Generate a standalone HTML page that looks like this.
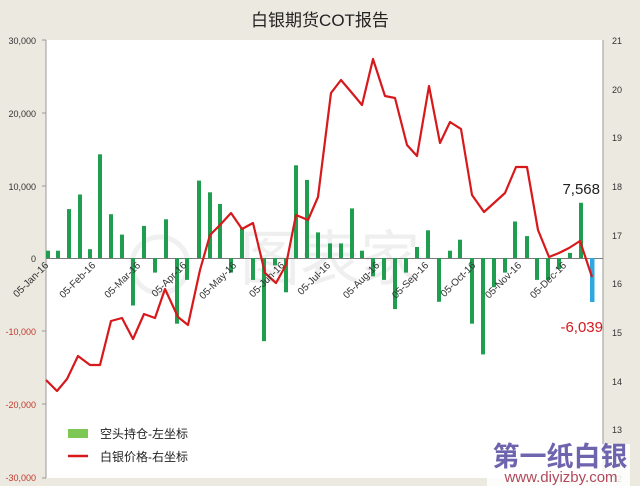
<!DOCTYPE html>
<html><head><meta charset="utf-8"><style>
html,body{margin:0;padding:0;background:#ece9e0;}
svg{display:block;font-family:"Liberation Sans","Noto Sans CJK SC",sans-serif;}
</style></head><body>
<svg width="640" height="486" viewBox="0 0 640 486" xmlns="http://www.w3.org/2000/svg">
<rect width="640" height="486" fill="#ece9e0"/>
<rect x="46" y="40" width="557" height="438" fill="#ffffff"/>
<text x="320" y="26" font-size="17" text-anchor="middle" fill="#222">白银期货COT报告</text>
<text x="330" y="280" font-size="60" fill="#efefef" text-anchor="middle">图表家</text>
<circle cx="160" cy="265" r="28" fill="none" stroke="#f0f0f0" stroke-width="5"/>
<line x1="46" y1="40" x2="46" y2="478" stroke="#999" stroke-width="1"/>
<line x1="603" y1="40" x2="603" y2="478" stroke="#999" stroke-width="1"/>
<line x1="46" y1="258.5" x2="603" y2="258.5" stroke="#7a7a7a" stroke-width="1"/>
<g font-size="9" text-anchor="end">
<text x="36" y="44" fill="#333">30,000</text>
<text x="36" y="117" fill="#333">20,000</text>
<text x="36" y="190" fill="#333">10,000</text>
<text x="36" y="262" fill="#333">0</text>
<text x="36" y="335" fill="#c0392b">-10,000</text>
<text x="36" y="408" fill="#c0392b">-20,000</text>
<text x="36" y="481" fill="#c0392b">-30,000</text>
</g>
<g font-size="9" fill="#333">
<text x="612" y="44">21</text><text x="612" y="93">20</text><text x="612" y="141">19</text>
<text x="612" y="190">18</text><text x="612" y="239">17</text><text x="612" y="287">16</text>
<text x="612" y="336">15</text><text x="612" y="385">14</text><text x="612" y="433">13</text>
<text x="612" y="482">12</text>
</g>
<g stroke="#999"><line x1="42" y1="40" x2="46" y2="40"/><line x1="42" y1="113" x2="46" y2="113"/><line x1="42" y1="186" x2="46" y2="186"/><line x1="42" y1="331" x2="46" y2="331"/><line x1="42" y1="404" x2="46" y2="404"/><line x1="42" y1="478" x2="46" y2="478"/></g>
<g fill="#1f9e4f">
<rect x="46" y="250.7" width="4" height="7.3"/>
<rect x="56" y="250.7" width="4" height="7.3"/>
<rect x="67" y="209.1" width="4" height="48.9"/>
<rect x="78" y="194.5" width="4" height="63.5"/>
<rect x="88" y="249.2" width="4" height="8.8"/>
<rect x="98" y="154.3" width="4" height="103.7"/>
<rect x="109" y="214.2" width="4" height="43.8"/>
<rect x="120" y="234.6" width="4" height="23.4"/>
<rect x="131" y="258" width="4" height="47.5"/>
<rect x="142" y="225.9" width="4" height="32.1"/>
<rect x="153" y="258" width="4" height="14.6"/>
<rect x="164" y="219.3" width="4" height="38.7"/>
<rect x="175" y="258" width="4" height="65.7"/>
<rect x="185" y="258" width="4" height="21.9"/>
<rect x="197" y="180.6" width="4" height="77.4"/>
<rect x="208" y="192.3" width="4" height="65.7"/>
<rect x="218" y="204" width="4" height="54"/>
<rect x="229" y="258" width="4" height="14.6"/>
<rect x="240" y="227.3" width="4" height="30.7"/>
<rect x="251" y="258" width="4" height="21.9"/>
<rect x="262" y="258" width="4" height="83.2"/>
<rect x="273" y="258" width="4" height="7.3"/>
<rect x="284" y="258" width="4" height="34.3"/>
<rect x="294" y="165.3" width="4" height="92.7"/>
<rect x="305" y="179.9" width="4" height="78.1"/>
<rect x="316" y="232.4" width="4" height="25.6"/>
<rect x="328" y="243.4" width="4" height="14.6"/>
<rect x="339" y="243.4" width="4" height="14.6"/>
<rect x="350" y="208.4" width="4" height="49.6"/>
<rect x="360" y="250.7" width="4" height="7.3"/>
<rect x="371" y="258" width="4" height="18.3"/>
<rect x="382" y="258" width="4" height="21.9"/>
<rect x="393" y="258" width="4" height="51.1"/>
<rect x="404" y="258" width="4" height="14.6"/>
<rect x="415" y="247" width="4" height="11"/>
<rect x="426" y="230.3" width="4" height="27.7"/>
<rect x="437" y="258" width="4" height="43.8"/>
<rect x="448" y="250.7" width="4" height="7.3"/>
<rect x="458" y="239.7" width="4" height="18.3"/>
<rect x="470" y="258" width="4" height="65.7"/>
<rect x="481" y="258" width="4" height="96.4"/>
<rect x="492" y="258" width="4" height="29.2"/>
<rect x="503" y="258" width="4" height="14.6"/>
<rect x="513" y="221.5" width="4" height="36.5"/>
<rect x="525" y="236.1" width="4" height="21.9"/>
<rect x="535" y="258" width="4" height="21.9"/>
<rect x="546" y="258" width="4" height="21.9"/>
<rect x="557" y="258" width="4" height="11"/>
<rect x="568" y="252.9" width="4" height="5.1"/>
<rect x="579" y="202.8" width="4" height="55.2"/>
</g>
<rect x="590" y="258" width="4.5" height="44" fill="#2fa8de"/>
<polyline fill="none" stroke="#d7191c" stroke-width="2.2" stroke-linejoin="round" points="46,380 57,391 67,379 78,356 90,365 100,365 111,321 122,318 133,339 144,314 155,318 165,289 178,317 188,325 200,270 210,235 220,225 231,213 242,229 253,223 265,273 276,283 286,265 296,215 308,220 318,197 331,93 341,80 352,93 362,105 373,59 385,96 395,98 407,145 417,156 429,86 440,143 450,122 461,129 472,195 484,212 494,203 505,193 516,167 527,167 538,230 549,257 559,253 569,248 580,241 592,277"/>
<g font-size="10" fill="#333" text-anchor="end">
<text transform="translate(49,266) rotate(-45)">05-Jan-16</text>
<text transform="translate(96,266) rotate(-45)">05-Feb-16</text>
<text transform="translate(141,266) rotate(-45)">05-Mar-16</text>
<text transform="translate(187,266) rotate(-45)">05-Apr-16</text>
<text transform="translate(237,266) rotate(-45)">05-May-16</text>
<text transform="translate(285,266) rotate(-45)">05-Jun-16</text>
<text transform="translate(331,266) rotate(-45)">05-Jul-16</text>
<text transform="translate(380,266) rotate(-45)">05-Aug-16</text>
<text transform="translate(429,266) rotate(-45)">05-Sep-16</text>
<text transform="translate(476,266) rotate(-45)">05-Oct-16</text>
<text transform="translate(522,266) rotate(-45)">05-Nov-16</text>
<text transform="translate(567,266) rotate(-45)">05-Dec-16</text>
</g>
<text x="600" y="194" font-size="15" fill="#222" text-anchor="end">7,568</text>
<text x="603" y="332" font-size="15" fill="#d7191c" text-anchor="end">-6,039</text>
<rect x="68" y="429" width="20" height="9" fill="#7dc855"/>
<text x="100" y="438" font-size="12" fill="#222">空头持仓-左坐标</text>
<line x1="68" y1="456" x2="88" y2="456" stroke="#d7191c" stroke-width="2.5"/>
<text x="100" y="461" font-size="12" fill="#222">白银价格-右坐标</text>
<rect x="487" y="444" width="143" height="42" fill="#ffffff" opacity="0.85"/>
<text x="560" y="466" font-size="27" font-weight="bold" fill="#6e63ad" text-anchor="middle">第一纸白银</text>
<text x="561" y="482" font-size="15" fill="#b0485a" text-anchor="middle">www.diyizby.com</text>
</svg>
</body></html>
